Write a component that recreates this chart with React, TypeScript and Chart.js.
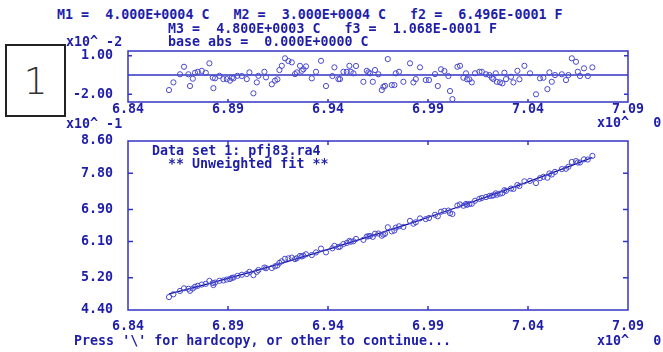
import React, { useEffect, useRef } from "react";
import { Chart, registerables } from "chart.js";

Chart.register(...registerables);

// ---------- data ----------
const X_VALUES = [
  6.8605, 6.8627, 6.8660, 6.8680, 6.8702, 6.8710, 6.8724, 6.8735, 6.8749, 6.8769,
  6.8789, 6.8807, 6.8824, 6.8827, 6.8835, 6.8857, 6.8877, 6.8894, 6.8910, 6.8919,
  6.8927, 6.8947, 6.8969, 6.8994, 6.9007, 6.9027, 6.9044, 6.9052, 6.9082, 6.9090,
  6.9119, 6.9135, 6.9147, 6.9157, 6.9169, 6.9185, 6.9202, 6.9219, 6.9235, 6.9244,
  6.9260, 6.9269, 6.9277, 6.9290, 6.9319, 6.9340, 6.9365, 6.9390, 6.9422, 6.9432,
  6.9452, 6.9460, 6.9477, 6.9494, 6.9507, 6.9514, 6.9527, 6.9540, 6.9577, 6.9594,
  6.9602, 6.9610, 6.9624, 6.9635, 6.9652, 6.9669, 6.9677, 6.9685, 6.9699, 6.9719,
  6.9732, 6.9739, 6.9755, 6.9777, 6.9810, 6.9827, 6.9839, 6.9860, 6.9889, 6.9905,
  6.9935, 6.9949, 6.9965, 6.9982, 7.0002, 7.0010, 7.0022, 7.0047, 7.0060, 7.0077,
  7.0090, 7.0095, 7.0107, 7.0119, 7.0135, 7.0157, 7.0169, 7.0190, 7.0207, 7.0219,
  7.0227, 7.0239, 7.0244, 7.0260, 7.0272, 7.0282, 7.0290, 7.0315, 7.0327, 7.0347,
  7.0357, 7.0382, 7.0410, 7.0440, 7.0460, 7.0477, 7.0497, 7.0507, 7.0519, 7.0535,
  7.0569, 7.0590, 7.0602, 7.0619, 7.0640, 7.0649, 7.0660, 7.0680, 7.0699, 7.0722,
];

// residuals, x10^-2
const RESIDUALS = [
  -0.78, -0.38, 0.04, 0.43, 0.04, -0.57, -0.19, 0.12, 0.17, 0.22,
  0.12, 0.61, -0.14, -0.68, -0.17, -0.04, -0.21, -0.21, -0.29, -0.14,
  -0.17, -0.04, -0.05, -0.21, 0.14, -0.95, -0.38, -0.04, 0.17, -0.12,
  -0.48, -0.29, -0.22, 0.26, 0.48, 0.87, 0.73, 0.66, 0.05, 0.14,
  0.48, 0.22, 0.30, 0.45, -0.17, 0.17, 0.74, -0.57, -0.05, 0.40,
  -0.21, -0.21, 0.17, 0.17, 0.48, 0.17, 0.09, 0.47, -0.35, 0.22,
  0.14, 0.09, -0.35, 0.26, 0.04, -0.78, -0.61, -0.56, 0.83, -0.52,
  -0.52, 0.09, 0.17, -0.35, 0.61, -0.38, -0.21, 0.40, -0.26, -0.26,
  0.05, -0.57, 0.30, 0.21, -0.05, -0.83, -1.25, 0.43, 0.48, -0.14,
  0.09, -0.22, -0.22, -0.38, 0.09, 0.17, 0.17, 0.04, 0.00, -0.14,
  -0.21, 0.09, -0.35, -0.38, -0.43, 0.12, -0.21, -0.09, -0.38, 0.22,
  -0.22, 0.48, 0.09, -1.00, -0.17, -0.14, -0.73, 0.14, -0.35, 0.00,
  0.04, -0.26, 0.00, 0.87, 0.69, 0.17, -0.05, 0.35, -0.05, 0.40,
];

// measured values, x10^-1
const MAIN_VALUES = [
  4.722, 4.790, 4.874, 4.939, 4.928, 4.877, 4.934, 4.979, 5.002, 5.033,
  5.050, 5.123, 5.070, 5.020, 5.082, 5.124, 5.134, 5.157, 5.171, 5.198,
  5.206, 5.247, 5.276, 5.294, 5.347, 5.266, 5.347, 5.392, 5.456, 5.438,
  5.443, 5.485, 5.509, 5.572, 5.611, 5.673, 5.684, 5.702, 5.664, 5.686,
  5.744, 5.731, 5.751, 5.785, 5.766, 5.831, 5.926, 5.833, 5.933, 5.994,
  5.963, 5.975, 6.040, 6.066, 6.117, 6.097, 6.109, 6.167, 6.143, 6.227,
  6.232, 6.239, 6.218, 6.296, 6.301, 6.246, 6.276, 6.294, 6.456, 6.353,
  6.374, 6.446, 6.480, 6.464, 6.615, 6.544, 6.581, 6.676, 6.659, 6.686,
  6.767, 6.729, 6.843, 6.863, 6.871, 6.807, 6.785, 6.996, 7.024, 6.991,
  7.037, 7.014, 7.035, 7.040, 7.115, 7.162, 7.183, 7.207, 7.233, 7.240,
  7.248, 7.299, 7.264, 7.290, 7.306, 7.379, 7.361, 7.418, 7.410, 7.507,
  7.481, 7.597, 7.609, 7.555, 7.675, 7.710, 7.688, 7.794, 7.768, 7.833,
  7.901, 7.910, 7.959, 8.079, 8.101, 8.066, 8.065, 8.144, 8.140, 8.230,
];

// unweighted fit curve
const FIT_X = [6.8605, 6.88, 6.90, 6.92, 6.94, 6.96, 6.98, 7.00, 7.02, 7.04, 7.06, 7.0722];
const FIT_Y = [4.800, 5.052, 5.324, 5.608, 5.905, 6.215, 6.537, 6.873, 7.221, 7.582, 7.955, 8.190];

const X_MIN = 6.84;
const X_MAX = 7.09;
const X_TICKS = [6.84, 6.89, 6.94, 6.99, 7.04, 7.09];
const MAIN_Y_MIN = 4.40;
const MAIN_Y_MAX = 8.60;
const MAIN_Y_TICKS = [4.40, 5.20, 6.10, 6.90, 7.80, 8.60];
const RES_Y_MIN = -1.4;
const RES_Y_MAX = 1.25;
const RES_Y_TICKS = [-1, 1];
const RES_Y_LABELS = ["-2.00", "1.00"];

const HEADER_1 = "M1 =  4.000E+0004 C   M2 =  3.000E+0004 C   f2 =  6.496E-0001 F";
const HEADER_2 = "M3 =  4.800E+0003 C   f3 =  1.068E-0001 F";
const HEADER_3 = "base abs =  0.000E+0000 C";
const EXP_RES_Y = "x10^ -2";
const EXP_MAIN_Y = "x10^ -1";
const EXP_X = "x10^   0";
const DATASET_LABEL = "Data set 1: pfj83.ra4";
const FIT_LABEL = "** Unweighted fit **";
const FOOTER = "Press '\\' for hardcopy, or other to continue...";
const PANEL_NUMBER = "1";

// ---------- style ----------
const TEXT_COLOR = "#1e1eaa";
const AXIS_COLOR = "#3434c4";
const POINT_COLOR = "#4848d0";
const FIT_COLOR = "#0c0c98";
const MONO = "'DejaVu Sans Mono', 'Liberation Mono', monospace";
const TICK_FONT = { family: MONO, size: 13.33, weight: "bold" as const };

const dosFrame = {
  id: "dosFrame",
  beforeDatasetsDraw(chart: any, _args: any, o: any) {
    const { ctx, chartArea: a, scales } = chart;
    const xs = scales.x;
    const ys = scales.y;
    ctx.save();
    ctx.strokeStyle = AXIS_COLOR;
    ctx.lineWidth = 1.5;
    ctx.strokeRect(a.left, a.top, a.right - a.left, a.bottom - a.top);
    ctx.beginPath();
    xs.ticks.forEach((t: any) => {
      const px = xs.getPixelForValue(t.value);
      if (px <= a.left + 1 || px >= a.right - 1) return;
      ctx.moveTo(px, a.bottom);
      ctx.lineTo(px, a.bottom - o.tick);
      if (o.topTicks) {
        ctx.moveTo(px, a.top);
        ctx.lineTo(px, a.top + o.tick);
      }
    });
    ys.ticks.forEach((t: any) => {
      const py = ys.getPixelForValue(t.value);
      if (py <= a.top + 1 || py >= a.bottom - 1) return;
      ctx.moveTo(a.left, py);
      ctx.lineTo(a.left + o.ytick, py);
      ctx.moveTo(a.right, py);
      ctx.lineTo(a.right - o.ytick, py);
    });
    if (o.zero) {
      const pz = ys.getPixelForValue(0);
      ctx.moveTo(a.left, pz);
      ctx.lineTo(a.right, pz);
    }
    ctx.stroke();
    ctx.restore();
  },
};

function xScale(height: number, gap: number) {
  return {
    type: "linear" as const,
    min: X_MIN,
    max: X_MAX,
    afterBuildTicks: (s: any) => {
      s.ticks = X_TICKS.map((v) => ({ value: v }));
    },
    afterFit: (s: any) => {
      s.height = height;
    },
    ticks: {
      callback: (v: any) => Number(v).toFixed(2),
      font: TICK_FONT,
      color: TEXT_COLOR,
      padding: 0,
      maxRotation: 0,
      autoSkip: false,
    },
    grid: { display: false, drawTicks: true, tickLength: gap },
    border: { display: false },
  };
}

function yScale(min: number, max: number, ticks: number[], cb: any) {
  return {
    type: "linear" as const,
    min,
    max,
    afterBuildTicks: (s: any) => {
      s.ticks = ticks.map((v) => ({ value: v }));
    },
    afterFit: (s: any) => {
      s.width = 128;
    },
    ticks: {
      callback: cb,
      font: TICK_FONT,
      color: TEXT_COLOR,
      padding: 0,
    },
    grid: { display: false, drawTicks: true, tickLength: 15 },
    border: { display: false },
  };
}

export default function App() {
  const topRef = useRef<HTMLCanvasElement>(null);
  const botRef = useRef<HTMLCanvasElement>(null);

  useEffect(() => {
    document.body.style.margin = "0";
    const resData = X_VALUES.map((x, i) => ({ x, y: RESIDUALS[i] }));
    const mainData = X_VALUES.map((x, i) => ({ x, y: MAIN_VALUES[i] }));
    const fitData = FIT_X.map((x, i) => ({ x, y: FIT_Y[i] }));

    const pointStyle = {
      pointStyle: "circle",
      pointRadius: 2.6,
      pointBorderWidth: 1,
      pointBackgroundColor: "rgba(0,0,0,0)",
      pointBorderColor: POINT_COLOR,
      showLine: false,
    };

    const top = new Chart(topRef.current!, {
      type: "scatter",
      data: { datasets: [{ data: resData, ...pointStyle } as any] },
      plugins: [dosFrame],
      options: {
        animation: false,
        responsive: false,
        layout: { padding: { top: 11, right: 35, left: 0, bottom: 0 } },
        plugins: {
          legend: { display: false },
          tooltip: { enabled: false },
          dosFrame: { tick: 3, ytick: 4, zero: true, topTicks: false },
        } as any,
        scales: {
          x: xScale(18, 0) as any,
          y: yScale(RES_Y_MIN, RES_Y_MAX, RES_Y_TICKS, (_v: any, i: number) => RES_Y_LABELS[i]) as any,
        },
      },
    });

    const bot = new Chart(botRef.current!, {
      type: "scatter",
      data: {
        datasets: [
          { data: mainData, ...pointStyle } as any,
          {
            data: fitData,
            showLine: true,
            pointRadius: 0,
            borderColor: FIT_COLOR,
            borderWidth: 1.3,
            cubicInterpolationMode: "monotone",
          } as any,
        ],
      },
      plugins: [dosFrame],
      options: {
        animation: false,
        responsive: false,
        layout: { padding: { top: 13, right: 35, left: 0, bottom: 0 } },
        plugins: {
          legend: { display: false },
          tooltip: { enabled: false },
          dosFrame: { tick: 4, ytick: 5, zero: false, topTicks: true },
        } as any,
        scales: {
          x: xScale(30, 9) as any,
          y: yScale(MAIN_Y_MIN, MAIN_Y_MAX, MAIN_Y_TICKS, (v: any) => Number(v).toFixed(2)) as any,
        },
      },
    });

    return () => {
      top.destroy();
      bot.destroy();
    };
  }, []);

  const txt = (left: number, top: number, s: string) => (
    <div
      style={{
        position: "absolute",
        left,
        top,
        fontFamily: MONO,
        fontWeight: "bold",
        fontSize: "13.33px",
        lineHeight: "14px",
        color: TEXT_COLOR,
        whiteSpace: "pre",
        zIndex: 2,
      }}
    >
      {s}
    </div>
  );

  return (
    <div
      style={{
        position: "relative",
        width: 663,
        height: 352,
        overflow: "hidden",
        background: "#ffffff",
      }}
    >
      <canvas
        ref={topRef}
        width={663}
        height={80}
        style={{ position: "absolute", left: 0, top: 40, zIndex: 1 }}
      />
      <canvas
        ref={botRef}
        width={663}
        height={212}
        style={{ position: "absolute", left: 0, top: 128, zIndex: 1 }}
      />
      {txt(57, 8, HEADER_1)}
      {txt(168, 22, HEADER_2)}
      {txt(66, 35, EXP_RES_Y)}
      {txt(168, 35, HEADER_3)}
      {txt(66, 117, EXP_MAIN_Y)}
      {txt(597, 116, EXP_X)}
      {txt(152, 144, DATASET_LABEL)}
      {txt(168, 157, FIT_LABEL)}
      {txt(74, 334, FOOTER)}
      {txt(597, 334, EXP_X)}
      <div
        style={{
          position: "absolute",
          left: 5,
          top: 44,
          width: 57,
          height: 69,
          border: "2px solid #222",
          display: "flex",
          alignItems: "center",
          justifyContent: "center",
          fontFamily: "'DejaVu Sans', sans-serif",
          fontWeight: 200,
          fontSize: "38px",
          color: "#333",
          zIndex: 3,
          background: "#fff",
        }}
      >
        {PANEL_NUMBER}
      </div>
    </div>
  );
}
